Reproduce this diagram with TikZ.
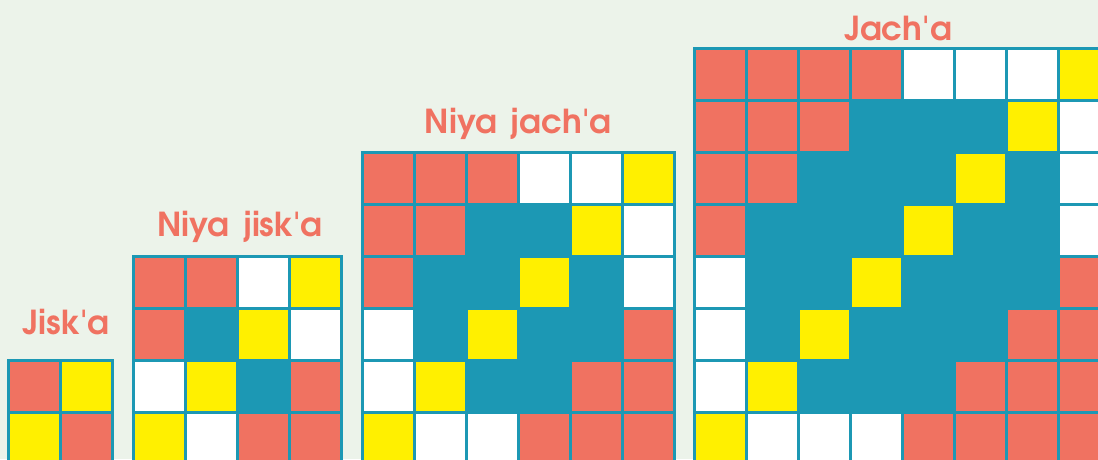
\documentclass[tikz,border=0pt]{standalone}
\usepackage{fontspec}
\setmainfont{texgyreadventor-bold.otf}[Ligatures=TeXOff]
\definecolor{bg}{RGB}{236,243,234}
\definecolor{salmon}{RGB}{240,114,97}
\definecolor{sun}{RGB}{255,240,0}
\definecolor{gridteal}{RGB}{28,152,180}
\tikzset{
  title/.style={text=salmon, font=\fontsize{33}{36}\selectfont, anchor=base, inner sep=0pt},
  gridline/.style={draw=gridteal, line width=3pt, line cap=rect},
}
\newcommand{\quiltgrid}[3]{%
  \pgfmathtruncatemacro{\kk}{#3/2}%
  \pgfmathtruncatemacro{\nm}{#3-1}%
  \pgfmathtruncatemacro{\hi}{#3-1+#3/2}%
  \foreach \i in {0,...,\nm}{%
    \foreach \j in {0,...,\nm}{%
      \pgfmathtruncatemacro{\s}{\i+\j}%
      \pgfmathtruncatemacro{\bd}{(\i==0)+(\j==0)+(\i==\nm)+(\j==\nm)}%
      \def\cc{gridteal}%
      \ifnum\bd>0 \def\cc{white}\fi
      \ifnum\s<\kk \def\cc{salmon}\fi
      \ifnum\s<\hi \else \def\cc{salmon}\fi
      \ifnum\s=\nm \def\cc{sun}\fi
      \fill[\cc] (#1+\j*52, #2+\i*52) rectangle ++(52,52);
    }%
  }%
  \foreach \k in {0,...,#3}{%
    \draw[gridline] (#1+\k*52, #2) -- ++(0, #3*52);
    \draw[gridline] (#1, #2+\k*52) -- ++(#3*52, 0);
  }%
}
\begin{document}
\begin{tikzpicture}[x=1pt, y=-1pt]
\fill[bg] (0,0) rectangle (1098,459);
\useasboundingbox (0,0) rectangle (1098,459);
\begin{scope}
\clip (0,0) rectangle (1098,459);
\quiltgrid{8}{360}{2}
\quiltgrid{133}{256}{4}
\quiltgrid{362}{152}{6}
\quiltgrid{694}{48}{8}
\end{scope}
\node[title] (t1) at (66,334) {Jisk'a};
\node[title] (t2) at (240,236) {Niya\hspace{14pt}jisk'a};
\node[title] (t3) at (518,133) {Niya\hspace{14pt}jach'a};
\node[title] (t4) at (898,40) {Jach'a};
\end{tikzpicture}
\end{document}
